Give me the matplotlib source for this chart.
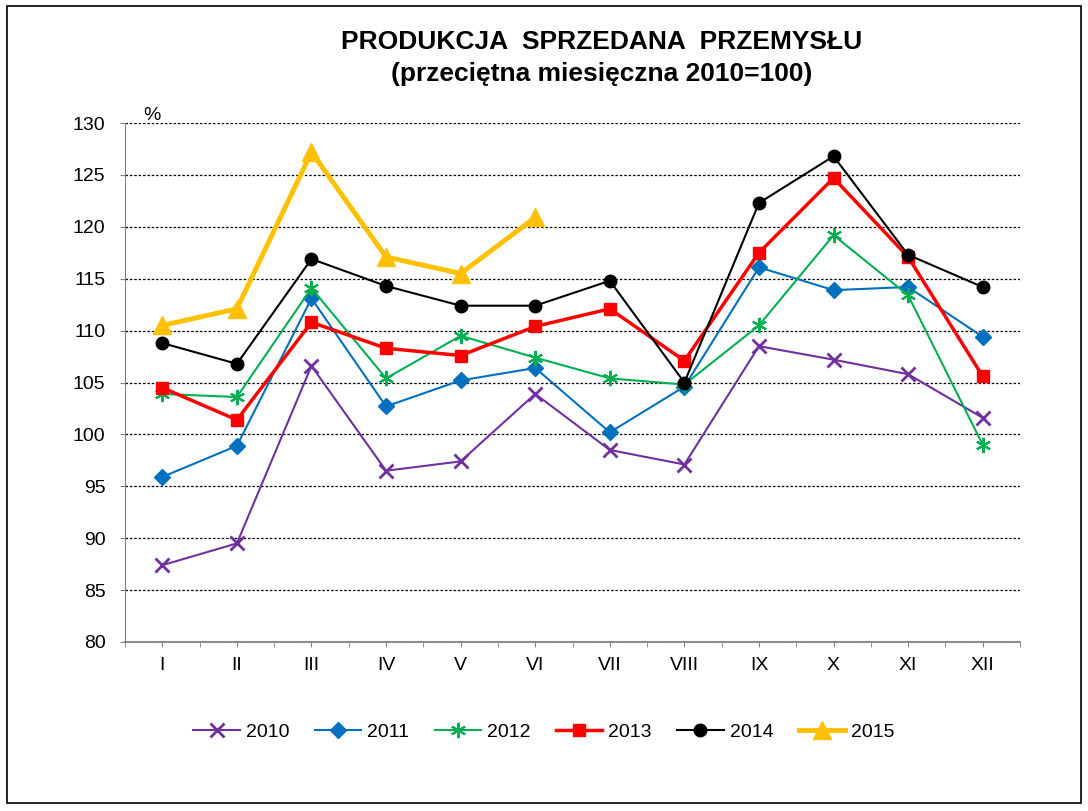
import matplotlib
matplotlib.use("Agg")
import matplotlib.pyplot as plt
from matplotlib.patches import Rectangle

plt.rcParams['font.family'] = ['Liberation Sans', 'DejaVu Sans']

months = ["I", "II", "III", "IV", "V", "VI", "VII", "VIII", "IX", "X", "XI", "XII"]
y2010 = [87.4, 89.5, 106.6, 96.5, 97.4, 103.9, 98.5, 97.1, 108.5, 107.2, 105.8, 101.6]
y2011 = [95.9, 98.9, 113.1, 102.7, 105.2, 106.4, 100.2, 104.6, 116.1, 113.9, 114.2, 109.4]
y2012 = [103.9, 103.6, 114.1, 105.4, 109.5, 107.4, 105.4, 104.8, 110.5, 119.2, 113.4, 99.0]
y2013 = [104.5, 101.4, 110.8, 108.3, 107.6, 110.4, 112.1, 107.1, 117.5, 124.7, 117.1, 105.6]
y2014 = [108.8, 106.8, 116.9, 114.3, 112.4, 112.4, 114.8, 105.0, 122.3, 126.8, 117.3, 114.2]
y2015 = [110.5, 112.1, 127.2, 117.1, 115.5, 120.9]
yticks = [80, 85, 90, 95, 100, 105, 110, 115, 120, 125, 130]

fig = plt.figure(figsize=(10.88, 8.11), dpi=100)
ax = fig.add_axes([0.1149, 0.2084, 0.8226, 0.6399])

x = list(range(12))
ax.plot(x, y2010, color='#7030A0', lw=1.5, marker='x', ms=10, mew=2, label='2010')
ax.plot(x, y2011, color='#0070C0', lw=1.5, marker='D', ms=8, label='2011')
ax.plot(x, y2012, color='#00B050', lw=1.5, marker=(6, 2, 0), ms=11, mew=1.5, label='2012')
ax.plot(x, y2013, color='#FF0000', lw=2.5, marker='s', ms=8, label='2013')
ax.plot(x, y2014, color='black', lw=1.5, marker='o', ms=9, label='2014')
ax.plot(x[:len(y2015)], y2015, color='#FFC000', lw=3.5, marker='^', ms=13, label='2015')

ax.set_xlim(-0.5, 11.5)
ax.set_ylim(80, 130)
ax.set_yticks(yticks)
ax.set_yticklabels([str(v) for v in yticks], fontsize=14)
ax.yaxis.grid(True, linestyle=(0, (2, 1.5)), color='black', lw=0.9)
ax.set_axisbelow(True)
ax.set_xticks(x)
ax.set_xticklabels(months, fontsize=14)
ax.set_xticks([i - 0.5 for i in range(13)], minor=True)
ax.tick_params(axis='x', which='major', length=3.5, direction='out', color='#808080', pad=7)
ax.tick_params(axis='x', which='minor', length=3.5, direction='out', color='#808080')
ax.tick_params(axis='y', length=3.6, color='#808080', pad=10.5)
for s in ['top', 'right']:
    ax.spines[s].set_visible(False)
ax.spines['left'].set_color('#808080')
ax.spines['bottom'].set_color('#808080')
ax.spines['bottom'].set_linewidth(1.3)

ax.text(0.03, 0.998, '%', transform=ax.transAxes, fontsize=14, ha='center', va='bottom')

fig.text(0.553, 0.948, 'PRODUKCJA  SPRZEDANA  PRZEMYSŁU', ha='center', va='center',
         fontsize=19, fontweight='bold')
fig.text(0.553, 0.909, '(przeciętna miesięczna 2010=100)', ha='center', va='center',
         fontsize=19, fontweight='bold')

leg = fig.legend(loc='center', bbox_to_anchor=(0.5, 0.097), ncol=6, frameon=False,
                 fontsize=14, handlelength=2.4, handletextpad=0.3, columnspacing=1.3)

fig.patches.append(Rectangle((0.006, 0.01), 0.988, 0.982, transform=fig.transFigure,
                             fill=False, edgecolor='black', lw=1.2))

fig.savefig('out.png', dpi=100, facecolor='white')
